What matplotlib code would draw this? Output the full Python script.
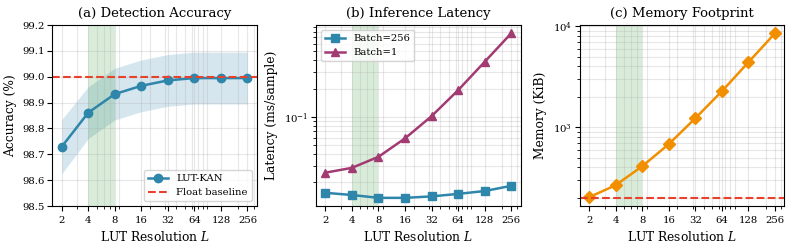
import matplotlib
matplotlib.use("Agg")
import matplotlib.pyplot as plt
import numpy as np
from matplotlib.ticker import NullFormatter

plt.rcParams['font.family'] = ['DejaVu Serif']
plt.rcParams['mathtext.fontset'] = 'dejavuserif'

# data
lut_res = [2, 4, 8, 16, 32, 64, 128, 256]
acc_mean = [98.729, 98.861, 98.933, 98.965, 98.986, 98.995, 98.995, 98.995]
acc_std = [0.105, 0.10, 0.10, 0.10, 0.10, 0.10, 0.10, 0.10]
float_acc = 99.0
lat_b256 = [0.0155, 0.0147, 0.0137, 0.0137, 0.0142, 0.0151, 0.0162, 0.0184]
lat_b1 = [0.0254, 0.0286, 0.0375, 0.0589, 0.1016, 0.192, 0.385, 0.775]
mem_kib = [203, 267, 411, 680, 1227, 2270, 4400, 8510]
float_mem = 200
sweet_spot = (4, 8)

c_blue = '#2E86AB'
c_purple = '#A23B72'
c_orange = '#F18F01'
c_red = '#E8412C'

fig, axes = plt.subplots(1, 3, figsize=(7.93, 2.48), dpi=100)
plt.subplots_adjust(left=0.066, right=0.989, bottom=0.169, top=0.899, wspace=0.29)

L = np.array(lut_res)

def style_x(ax):
    ax.set_xscale('log')
    ax.set_xticks(lut_res)
    ax.set_xticklabels([str(v) for v in lut_res])
    ax.xaxis.set_minor_formatter(NullFormatter())
    ax.set_xlabel('LUT Resolution $L$', fontsize=8.8)
    ax.tick_params(labelsize=7.3)
    ax.tick_params(axis='y', which='both', pad=2)
    ax.grid(True, which='both', alpha=0.3)
    ax.axvspan(sweet_spot[0], sweet_spot[1], color='green', alpha=0.15, lw=0)

# (a) accuracy
ax = axes[0]
m = np.array(acc_mean)
s = np.array(acc_std)
ax.fill_between(L, m - s, m + s, color=c_blue, alpha=0.2, lw=0)
ax.plot(L, m, '-o', color=c_blue, lw=1.8, ms=6, label='LUT-KAN')
ax.axhline(float_acc, color=c_red, ls='--', lw=1.5, label='Float baseline')
style_x(ax)
ax.set_ylim(98.5, 99.2)
ax.set_yticks(np.arange(98.5, 99.21, 0.1))
ax.set_ylabel('Accuracy (%)', fontsize=8.8)
ax.set_title('(a) Detection Accuracy', fontsize=9.5)
ax.legend(loc='lower right', fontsize=7.2)

# (b) latency
ax = axes[1]
ax.plot(L, lat_b256, '-s', color=c_blue, lw=1.8, ms=6, label='Batch=256')
ax.plot(L, lat_b1, '-^', color=c_purple, lw=1.8, ms=6, label='Batch=1')
ax.set_yscale('log')
style_x(ax)
ax.set_ylabel('Latency (ms/sample)', fontsize=8.8)
ax.set_title('(b) Inference Latency', fontsize=9.5)
ax.legend(loc='upper left', fontsize=7.2)

# (c) memory
ax = axes[2]
ax.plot(L, mem_kib, '-D', color=c_orange, lw=1.8, ms=6)
ax.axhline(float_mem, color=c_red, ls='--', lw=1.5)
ax.set_yscale('log')
style_x(ax)
ax.set_ylabel('Memory (KiB)', fontsize=8.8)
ax.set_title('(c) Memory Footprint', fontsize=9.5)

plt.savefig('out.png', dpi=100)
